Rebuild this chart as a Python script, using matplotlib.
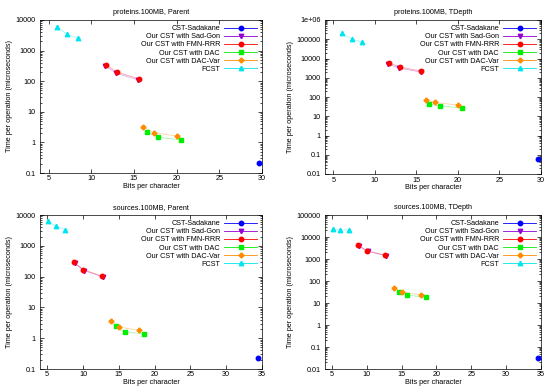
import numpy as np
import matplotlib.pyplot as plt

labels = ["CST-Sadakane", "Our CST with Sad-Gon", "Our CST with FMN-RRR",
          "Our CST with DAC", "Our CST with DAC-Var", "FCST"]
colors = ["#0000ff", "#9400d3", "#ff0000", "#00ee00", "#ff8c00", "#00e5ee"]
markers = ["o", "v", "o", "s", "P", "^"]

# proteins.100MB, Parent
p_par_x = [[29.6], [11.6, 12.9, 15.5], [11.7, 13.0, 15.6],
           [16.5, 17.8, 20.5], [16.1, 17.3, 20.0], [6.0, 7.2, 8.4]]
p_par_y = [[0.22], [320, 185, 110], [350, 200, 120],
           [2.2, 1.5, 1.2], [3.1, 2.1, 1.6], [5800, 3400, 2500]]

# proteins.100MB, TDepth
p_td_x = p_par_x
p_td_y = [[0.06], [5200, 3200, 2000], [5800, 3600, 2200],
          [45, 34, 27], [70, 52, 38], [200000, 105000, 72000]]

# sources.100MB, Parent
s_par_x = [[34.5], [8.9, 10.2, 12.8], [8.7, 10.0, 12.6],
           [14.6, 15.8, 18.5], [13.9, 15.1, 17.8], [5.1, 6.2, 7.5]]
s_par_y = [[0.22], [270, 155, 97], [290, 170, 105],
           [2.4, 1.65, 1.35], [3.5, 2.3, 1.8], [6500, 4300, 3300]]

# sources.100MB, TDepth
s_td_x = s_par_x
s_td_y = [[0.032], [3800, 2200, 1400], [4200, 2400, 1500],
          [32, 23, 18], [46, 31, 23], [22000, 21000, 21000]]

panels = [
    ("proteins.100MB, Parent", p_par_x, p_par_y, (4, 30), (0.1, 10000), [5, 10, 15, 20, 25, 30]),
    ("proteins.100MB, TDepth", p_td_x, p_td_y, (4, 30), (0.01, 1e6), [5, 10, 15, 20, 25, 30]),
    ("sources.100MB, Parent", s_par_x, s_par_y, (4, 35), (0.1, 10000), [5, 10, 15, 20, 25, 30, 35]),
    ("sources.100MB, TDepth", s_td_x, s_td_y, (4, 35), (0.01, 100000), [5, 10, 15, 20, 25, 30, 35]),
]

# axes boxes in pixels: left, top, right, bottom
boxes = [(40, 20, 262, 173), (325, 20, 541, 174),
         (40, 215, 262, 369), (325, 215, 541, 369)]

W, H = 550, 392
fig = plt.figure(figsize=(W / 100, H / 100), dpi=100)
plt.rcParams['font.family'] = ['Liberation Sans', 'DejaVu Sans']
fs = 5.2

for (title, xs, ys, xl, yl, xt), (l, t, r, b) in zip(panels, boxes):
    ax = fig.add_axes([l / W, 1 - b / H, (r - l) / W, (b - t) / H])
    for i in range(len(labels)):
        ax.plot(xs[i], ys[i], color=colors[i], lw=0.6, alpha=0.35)
        ax.plot(xs[i], ys[i], color=colors[i], marker=markers[i], ms=3.2, lw=0,
                clip_on=False, zorder=3)
    # legend proxies (line + marker)
    handles = [plt.Line2D([], [], color=colors[i], lw=0.6, marker=markers[i], ms=3.2)
               for i in range(len(labels))]
    leg = ax.legend(handles, labels, loc="upper right", frameon=False, fontsize=fs,
                    markerfirst=False, handlelength=4.5, labelspacing=0.15,
                    borderaxespad=0.3, handletextpad=0.6)
    for txt in leg.get_texts():
        txt.set_ha("right")
    leg._legend_box.align = "right"

    ax.set_yscale("log")
    ax.set_xlim(*xl)
    ax.set_ylim(*yl)
    ax.set_xticks(xt)
    ax.set_xticklabels([str(v) for v in xt])
    ax.set_title(title, fontsize=fs, pad=4)
    ax.set_xlabel("Bits per character", fontsize=fs, labelpad=0.5)
    ax.set_ylabel("Time per operation (microseconds)", fontsize=fs, labelpad=2)
    ax.tick_params(which="both", direction="in", top=True, right=True, labelsize=fs,
                   width=0.5)
    ax.tick_params(axis="x", pad=1.8)
    ax.tick_params(axis="y", pad=3)
    ax.tick_params(which="major", length=3)
    ax.tick_params(which="minor", length=1.5)
    ax.yaxis.set_major_formatter(plt.FuncFormatter(
        lambda v, p: ("1e+06" if v >= 1e6 else ("%g" % v))))
    for s in ax.spines.values():
        s.set_linewidth(0.5)

fig.savefig("out.png", dpi=100)
